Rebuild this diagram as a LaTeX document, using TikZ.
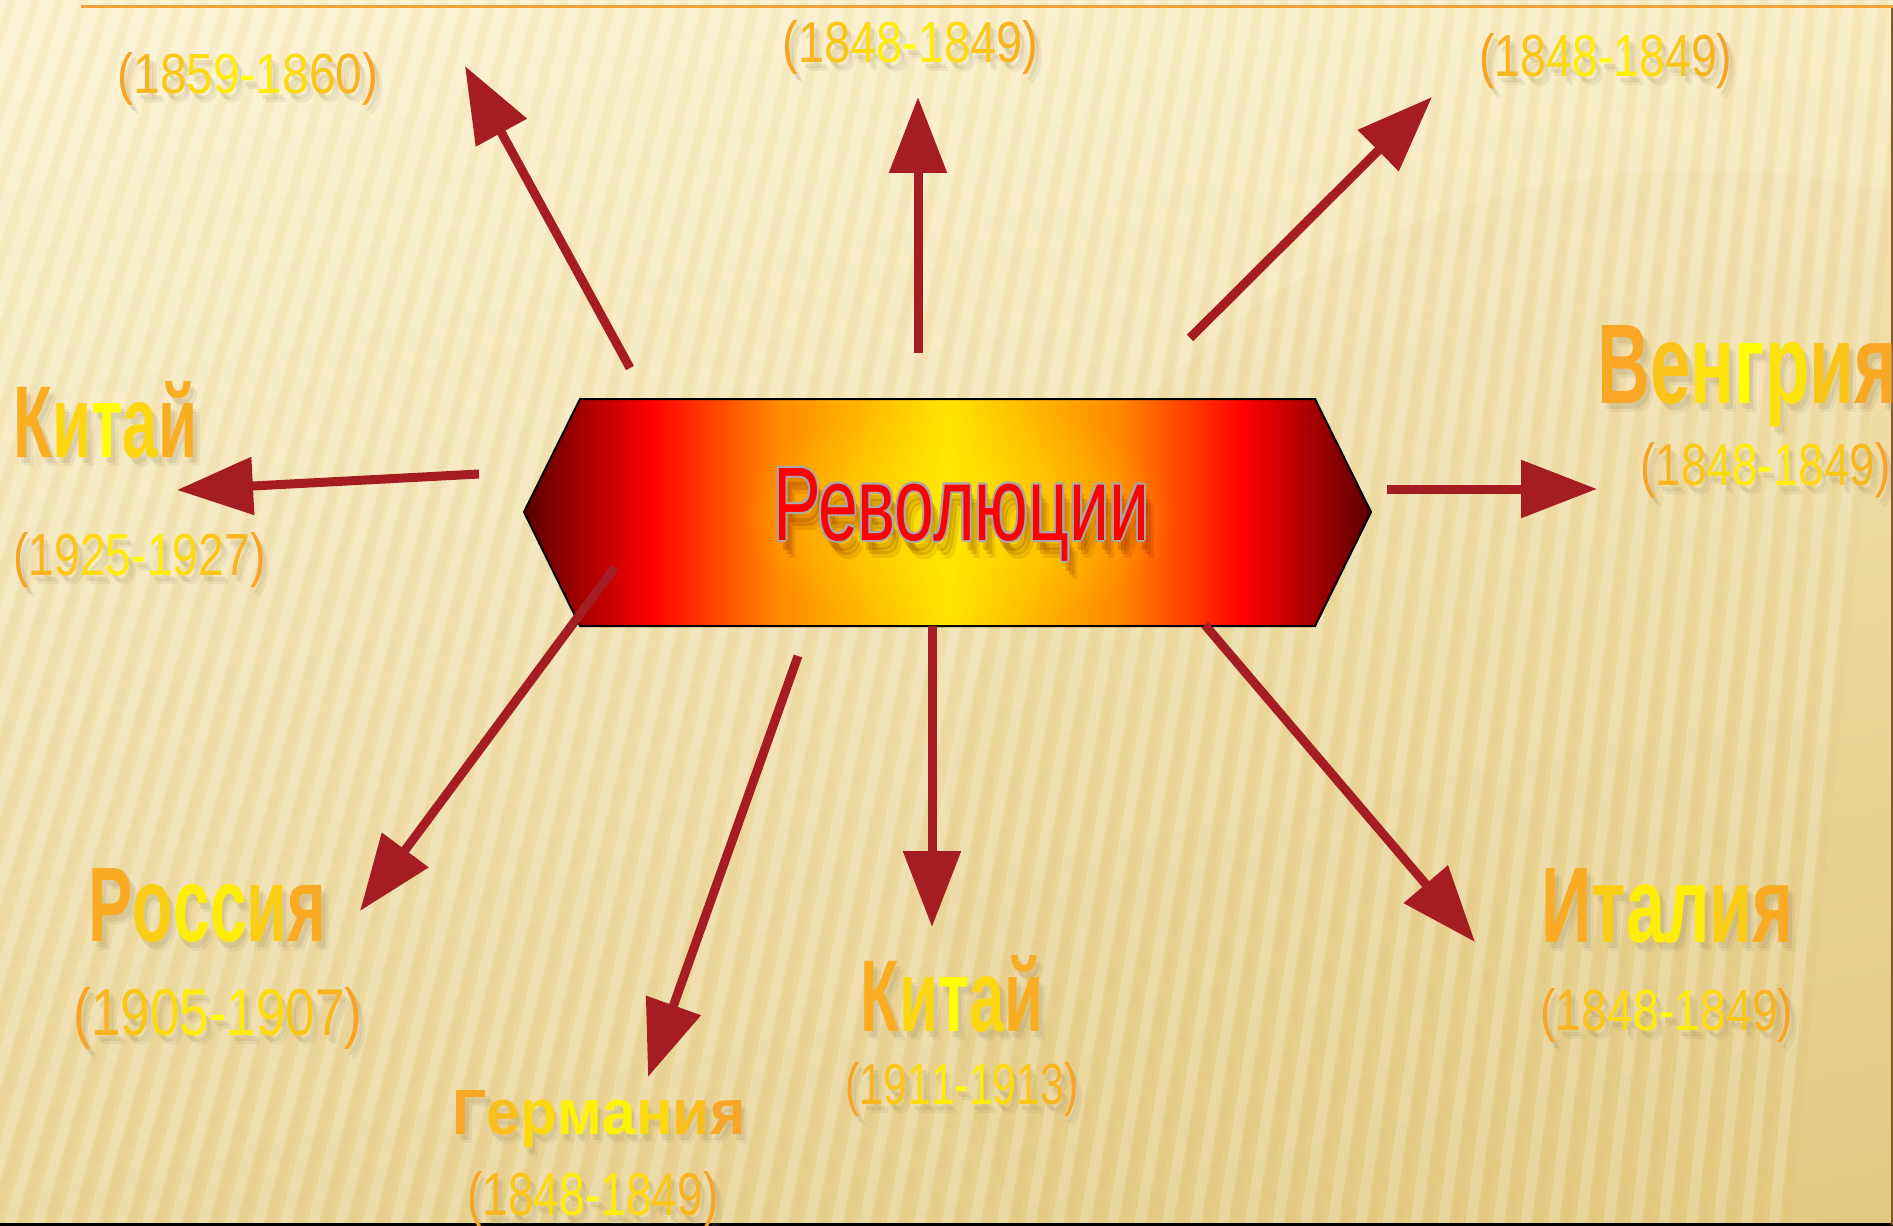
\documentclass[tikz,border=0pt]{standalone}
\usepackage{fontspec}
\setmainfont{Liberation Sans}
\usepackage{graphicx}
\usetikzlibrary{arrows.meta,fadings,shadings}

\definecolor{gorange}{HTML}{F79A2A}
\definecolor{gyellow}{HTML}{FFFF00}
\definecolor{arrowred}{HTML}{A51D21}
\definecolor{hexdark}{HTML}{5A0000}
\definecolor{hexorange}{HTML}{FF8A00}
\definecolor{hexyellow}{HTML}{FFE400}
\definecolor{topline}{HTML}{F0A236}
\definecolor{shadowc}{HTML}{9C8A5E}
\definecolor{bgUL}{HTML}{FCF2CF}
\definecolor{bgUR}{HTML}{F8EABE}
\definecolor{bgLL}{HTML}{EAD597}
\definecolor{bgLR}{HTML}{E3CB86}
\definecolor{outlinegray}{HTML}{A8A8A8}

\tikzfading[name=glowfade, inner color=transparent!0, outer color=transparent!100]

\pgfdeclarehorizontalshading{hexshade}{100bp}{%
 color(0bp)=(hexdark); color(25bp)=(hexdark); color(32.5bp)=(red);
 color(40bp)=(hexorange); color(50bp)=(hexyellow); color(60bp)=(hexorange);
 color(67.5bp)=(red); color(75bp)=(hexdark); color(100bp)=(hexdark)}

\makeatletter
\newcount\gwn \newcount\gwi \newcount\gwp
\newcommand\gradword[1]{\gwn=0 \@tfor\gw@c:=#1\do{\advance\gwn by 1 }%
 \gwi=0 \@tfor\gw@c:=#1\do{\advance\gwi by 1
 \gwp=\numexpr 2*\gwi-1-\gwn\relax \ifnum\gwp<0 \gwp=-\gwp\fi
 \gwp=\numexpr 100-\gwp*100/\gwn\relax
 \edef\gw@col{gyellow!\the\gwp!gorange}\textcolor{\gw@col}{\gw@c}}}
\makeatother

% name, x, y (base west), width, height, font, text
\newcommand\lbl[7]{%
 \node[anchor=base west, inner sep=0, text=shadowc, opacity=0.18] (#1s) at ([xshift=2pt,yshift=-3pt]#2,#3) {\resizebox{#4}{#5}{#6#7}};
 \node[anchor=base west, inner sep=0, text=shadowc, opacity=0.12] (#1t) at ([xshift=3.5pt,yshift=-4.5pt]#2,#3) {\resizebox{#4}{#5}{#6#7}};
 \node[anchor=base west, inner sep=0] (#1) at (#2,#3) {\resizebox{#4}{#5}{#6\gradword{#7}}};}

\tikzset{
 arr/.style={draw=arrowred, line width=4.5pt, -{Triangle[length=38pt,width=28pt]}},
 stripelight/.style={draw=white, opacity=0.2, line width=5.5pt},
 stripedark/.style={draw=brown, opacity=0.04, line width=4pt},
 hexbox/.style={draw=black, line width=1pt, shading=hexshade}
}

\begin{document}
\begin{tikzpicture}[x=0.5pt,y=-0.5pt]
\useasboundingbox (0,0) rectangle (1893,1225);
\clip (0,0) rectangle (1893,1225);
% background
\shade[upper left=bgUL, upper right=bgUR, lower left=bgLL, lower right=bgLR] (0,0) rectangle (1893,1225);
\fill[brown!70!yellow, opacity=0.05] (1700,900) ellipse (760 and 730);
\foreach \xt in {-600,-576,...,1900} {
  \pgfmathsetmacro\xb{\xt - (2716-\xt)/8230*1225}
  \draw[stripelight] (\xt,0) -- (\xb,1225);
  \draw[stripedark] (\xt+12,0) -- (\xb+12,1225);
}
\draw[topline, line width=1.6pt] (81,6.5) -- (1893,6.5);
\draw[black, line width=1.5pt] (0,1224) -- (1893,1224);
\draw[brown!70!black, line width=0.7pt] (1892,8) -- (1892,1225);

% central hexagon
\path[hexbox] (524,512) -- (580,399) -- (1315,399) -- (1371,512) -- (1315,626) -- (580,626) -- cycle;
\fill[yellow, opacity=0.55, path fading=glowfade] (955,515) ellipse (220 and 115);

% title text with shadow and outline
\foreach \k/\dx/\dy/\op in {1/4/10/0.16, 2/7/14/0.14, 3/10/18/0.1}
  \node[anchor=base west, inner sep=0, text=hexdark, opacity=\op] (revsh\k) at ([xshift=\dx*0.5pt,yshift=-\dy*0.5pt]773,540) {\resizebox{188pt}{36pt}{Революции}};
\foreach \k/\dx/\dy in {1/-1/0, 2/1/0, 3/0/-1, 4/0/1, 5/-0.75/-0.75, 6/0.75/0.75, 7/-0.75/0.75, 8/0.75/-0.75}
  \node[anchor=base west, inner sep=0, text=outlinegray] (revol\k) at ([xshift=\dx pt,yshift=\dy pt]773,540) {\resizebox{188pt}{36pt}{Революции}};
\node[anchor=base west, inner sep=0, text=red] (rev) at (773,540) {\resizebox{188pt}{36pt}{Революции}};

% arrows
\coordinate (s1) at (630,368);  \coordinate (t1) at (465,66);
\coordinate (s2) at (918,353);  \coordinate (t2) at (918,97);
\coordinate (s3) at (1190,338); \coordinate (t3) at (1432,97);
\coordinate (s4) at (1387,489); \coordinate (t4) at (1597,489);
\coordinate (s5) at (479,474);  \coordinate (t5) at (177,490);
\coordinate (s6) at (615,567);  \coordinate (t6) at (360,911);
\coordinate (s7) at (798,656);  \coordinate (t7) at (648,1077);
\coordinate (s8) at (932,626);  \coordinate (t8) at (932,927);
\coordinate (s9) at (1205,625); \coordinate (t9) at (1475,942);
\foreach \i in {1,...,9} \draw[arr] (s\i) -- (t\i);

% labels
\lbl{dTL}{117}{94}{130.5pt}{20.5pt}{}{(1859-1860)}
\lbl{dTC}{782}{63}{128pt}{21pt}{}{(1848-1849)}
\lbl{dTR}{1479}{77}{126.5pt}{21.5pt}{}{(1848-1849)}
\lbl{nVen}{1597}{403}{150pt}{39pt}{\bfseries}{Венгрия}
\lbl{dVen}{1640}{485}{125pt}{21.5pt}{}{(1848-1849)}
\lbl{nKitL}{13}{457}{92pt}{38pt}{\bfseries}{Китай}
\lbl{dKitL}{13}{575}{126pt}{21.5pt}{}{(1925-1927)}
\lbl{nRus}{88}{941}{119pt}{36.5pt}{\bfseries}{Россия}
\lbl{dRus}{73}{1035}{144.5pt}{24pt}{}{(1905-1907)}
\lbl{nGer}{452}{1134}{146.5pt}{22pt}{\bfseries}{Германия}
\lbl{dGer}{467}{1215}{125.5pt}{22pt}{}{(1848-1849)}
\lbl{nKitB}{860}{1031}{91.5pt}{38pt}{\bfseries}{Китай}
\lbl{dKitB}{845}{1104}{116.5pt}{21pt}{}{(1911-1913)}
\lbl{nIta}{1541}{942}{126pt}{37pt}{\bfseries}{Италия}
\lbl{dIta}{1540}{1030}{126.5pt}{21pt}{}{(1848-1849)}
\end{tikzpicture}
\end{document}
